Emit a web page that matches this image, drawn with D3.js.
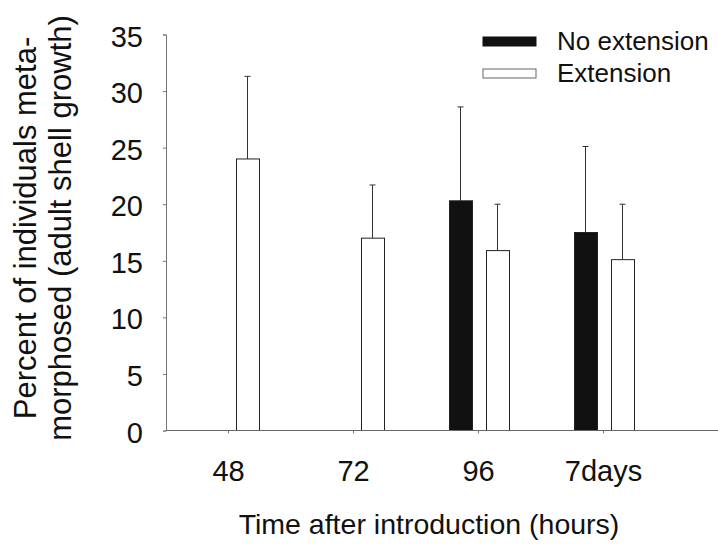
<!DOCTYPE html>
<html>
<head>
<meta charset="utf-8">
<script src="https://cdn.jsdelivr.net/npm/d3@7"></script>
<style>
	body { margin: 0; background: white; }
	text { font-family: "Liberation Sans", Arial, sans-serif; fill: #111; }
</style>
</head>
<body>
<svg id="chart"></svg>
<script>
(function(){

	//Chart data
	var categories = ["48", "72", "96", "7days"];
	var seriesNames = ["No extension", "Extension"];
	var noExtension = [null, null, 20.3, 17.5];
	var noExtensionErr = [null, null, 28.6, 25.1];
	var extension = [24, 17, 15.9, 15.1];
	var extensionErr = [31.3, 21.7, 20, 20];
	var yTicks = [0, 5, 10, 15, 20, 25, 30, 35];

	//SVG Configurations
	var svgWidth = 718;
	var svgHeight = 550;
	var left = 166, right = 666, top = 34.5, bottom = 430.5;
	var barFill = ["#111", "white"];
	var fontName = "Liberation Sans, Arial, sans-serif";

	var svg = d3.select("#chart")
		.attr("width", svgWidth)
		.attr("height", svgHeight);

	var x = d3.scaleBand().domain(categories).range([left, right]);
	var xSub = d3.scaleBand().domain(seriesNames).range([0, 60]).paddingInner(14/37);
	var y = d3.scaleLinear().domain([0, 35]).range([bottom, top]);

	//flatten the series into one list of bars
	var bars = [];
	categories.forEach(function(c, i){
		bars.push({cat: c, series: seriesNames[0], value: noExtension[i], err: noExtensionErr[i], fill: barFill[0]});
		bars.push({cat: c, series: seriesNames[1], value: extension[i], err: extensionErr[i], fill: barFill[1]});
	});
	bars = bars.filter(function(d){ return d.value != null; });

	function barX(d){ return x(d.cat) + x.bandwidth()/2 - 30 + xSub(d.series); }
	function barMid(d){ return Math.round(barX(d) + xSub.bandwidth()/2) + 0.5; }

	//Error bars (upper only)
	var errGroup = svg.append("g").attr("stroke", "#333").attr("stroke-width", 1);
	errGroup.selectAll("line.err")
		.data(bars)
		.enter()
		.append("line")
		.attr("x1", barMid)
		.attr("x2", barMid)
		.attr("y1", function(d){ return y(d.value); })
		.attr("y2", function(d){ return y(d.err); });
	errGroup.selectAll("line.cap")
		.data(bars)
		.enter()
		.append("line")
		.attr("x1", function(d){ return barMid(d) - 3; })
		.attr("x2", function(d){ return barMid(d) + 3; })
		.attr("y1", function(d){ return y(d.err); })
		.attr("y2", function(d){ return y(d.err); });

	//Bars
	svg.append("g").selectAll("rect")
		.data(bars)
		.enter()
		.append("rect")
		.attr("x", function(d){ return Math.round(barX(d)) + 0.5; })
		.attr("y", function(d){ return y(d.value); })
		.attr("width", xSub.bandwidth())
		.attr("height", function(d){ return bottom - y(d.value); })
		.attr("fill", function(d){ return d.fill; })
		.attr("stroke", "#222")
		.attr("stroke-width", 1);

	//Y axis
	var yAxis = svg.append("g")
		.attr("transform", "translate(" + left + ",0)")
		.call(d3.axisLeft(y).tickValues(yTicks).tickSize(3).tickPadding(20));
	yAxis.select(".domain").attr("stroke", "#777");
	yAxis.selectAll(".tick line").attr("stroke", "#777");
	yAxis.selectAll(".tick text")
		.attr("font-size", "29px")
		.attr("font-family", fontName)
		.attr("fill", "#111")
		.attr("dy", "0.4em");

	//X axis, line runs to the edge of the picture
	var xAxis = svg.append("g")
		.attr("transform", "translate(0," + bottom + ")")
		.call(d3.axisBottom(x).tickSize(3).tickSizeOuter(0).tickPadding(27));
	xAxis.select(".domain").remove();
	xAxis.append("line")
		.attr("x1", left).attr("x2", svgWidth)
		.attr("stroke", "#666");
	xAxis.selectAll(".tick line").attr("stroke", "#777");
	xAxis.selectAll(".tick text")
		.attr("font-size", "29px")
		.attr("font-family", fontName)
		.attr("fill", "#111");

	//Axis titles
	svg.append("text")
		.attr("x", 429)
		.attr("y", 534)
		.attr("text-anchor", "middle")
		.attr("font-size", "28.5px")
		.text("Time after introduction (hours)");

	var yTitle = svg.append("text")
		.attr("transform", "translate(36,228) rotate(-90)")
		.attr("text-anchor", "middle")
		.attr("font-size", "31px");
	yTitle.append("tspan").attr("x", 0).attr("y", 0).text("Percent of individuals meta-");
	yTitle.append("tspan").attr("x", 0).attr("y", 35).text("morphosed (adult shell growth)");

	//Legend
	var legend = svg.append("g").selectAll("g")
		.data(seriesNames)
		.enter()
		.append("g")
		.attr("transform", function(d, i){ return "translate(483," + (37 + i * 32) + ")"; });
	legend.append("rect")
		.attr("width", 53)
		.attr("height", 9)
		.attr("fill", function(d, i){ return barFill[i]; })
		.attr("stroke", function(d, i){ return i == 0 ? "#111" : "#666"; });
	legend.append("text")
		.attr("x", 74)
		.attr("y", 13)
		.attr("font-size", "26px")
		.text(function(d){ return d; });

})();
</script>
</body>
</html>
